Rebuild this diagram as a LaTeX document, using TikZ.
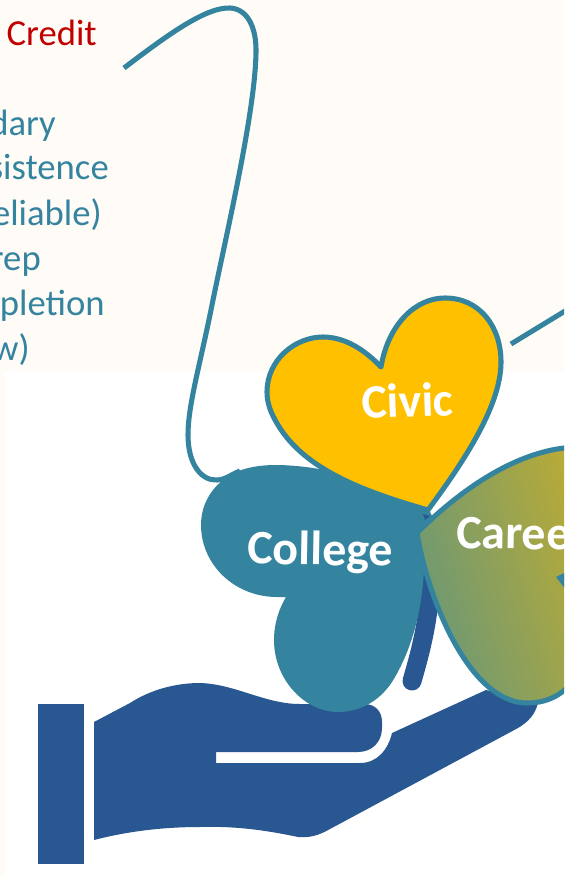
\documentclass[tikz,border=0pt]{standalone}
\usepackage{fontspec}
\setmainfont{Carlito}
\definecolor{cream}{HTML}{FFFBF6}
\definecolor{teal1}{HTML}{34849F}
\definecolor{handblue}{HTML}{285791}
\definecolor{gold}{HTML}{FFC000}
\definecolor{redtxt}{HTML}{C00000}
\definecolor{gradA}{HTML}{5E9580}
\definecolor{gradB}{HTML}{CBAF28}
\tikzset{
  outline/.style={draw=teal1,line width=3.8pt,line join=round},
  listtxt/.style={text=teal1,font=\fontsize{27.5}{27.5}\selectfont,anchor=base east,inner sep=0pt},
  leaftxt/.style={text=white,font=\fontsize{36}{36}\selectfont\bfseries,inner sep=0pt,anchor=base}
}
\begin{document}
\begin{tikzpicture}[x=0.75pt,y=-0.75pt]
\useasboundingbox (0,0) rectangle (564,877);
\clip (0,0) rectangle (564,877);
% backgrounds
\fill[white] (0,0) rectangle (564,877);
\fill[cream] (0,0) rectangle (564,371);
\fill[cream] (0,371) rectangle (5,877);
% texts
\node[inner sep=0pt,anchor=base east,text=redtxt,font=\fontsize{27.5}{27.5}\selectfont] (credit) at (97,46) {Credit};
\node[listtxt] (l1) at (56,136) {dary};
\node[listtxt] (l2) at (109,180) {sistence};
\node[listtxt] (l3) at (102,225) {eliable)};
\node[listtxt] (l4) at (41,270) {rep};
\node[listtxt] (l5) at (105,315) {pletion};
\node[listtxt] (l6) at (30,360) {w)};
% hand
\fill[handblue] (38,704) rectangle (84,864);
\fill[handblue] (94,722) -- (130,703) .. controls (150,690) and (175,683) .. (200,683)
  .. controls (235,684) and (265,704) .. (300,704) -- (364,704)
  .. controls (376,704) and (382,712) .. (382,722) -- (382,728)
  .. controls (382,742) and (372,752) .. (358,752) -- (216,752) -- (216,763) -- (360,763)
  .. controls (377,763) and (388,750) .. (392,733) -- (486,690) -- (538,703)
  .. controls (535,715) and (528,722) .. (518,728) -- (330,829)
  .. controls (318,836) and (308,838) .. (298,837)
  .. controls (265,830) and (235,826) .. (200,827)
  .. controls (160,827) and (125,832) .. (94,840) -- cycle;
% stem
\draw[handblue,line width=14.25pt,line cap=round] (431,575) .. controls (429,620) and (421,650) .. (412,681);
% College leaf with its long outline
\draw[teal1,line width=3.8pt,line cap=butt,line join=round]
  (124,68) .. controls (165,37) and (205,7) .. (230,8)
  .. controls (248,9) and (256,28) .. (256,50)
  .. controls (256,110) and (225,240) .. (212,305)
  .. controls (200,365) and (188,405) .. (188,435)
  .. controls (188,465) and (202,481) .. (217,480)
  .. controls (225,480) and (232,474) .. (240,471);
\fill[teal1] (232,474) .. controls (245,467) and (262,465) .. (275,465)
  .. controls (300,465) and (340,470) .. (375,485)
  -- (428,508) -- (432,516) -- (417,533) -- (424,570)
  .. controls (422,610) and (412,650) .. (392,682)
  .. controls (378,703) and (358,712) .. (338,712)
  .. controls (305,712) and (274,680) .. (274,640)
  .. controls (274,622) and (280,607) .. (286,597)
  -- (277,597) .. controls (235,597) and (201,565) .. (201,525)
  .. controls (201,502) and (214,484) .. (232,474) -- cycle;
\fill[handblue] (423,514) -- (430,516) -- (425,520) -- cycle;
% Civic heart
\draw[outline,fill=gold] (381,367) .. controls (388,325) and (415,298) .. (445,298)
  .. controls (480,298) and (501,327) .. (501,362)
  .. controls (501,405) and (465,460) .. (428,510)
  .. controls (365,492) and (305,470) .. (278,425)
  .. controls (270,412) and (267,402) .. (267,392)
  .. controls (267,360) and (295,337) .. (323,337)
  .. controls (345,337) and (365,350) .. (381,367) -- cycle;
% Career heart
\begin{scope}
  \clip (417,533) .. controls (460,490) and (520,447) .. (580,447) -- (620,447) -- (620,720) -- (575,680)
   .. controls (560,697) and (545,703) .. (527,703)
   .. controls (470,703) and (428,600) .. (417,533) -- cycle;
  \shade[left color=gradA,right color=gradB,shading angle=106] (380,440) rectangle (640,700);
\end{scope}
\draw[outline] (417,533) .. controls (460,490) and (520,447) .. (580,447);
\draw[outline] (417,533) .. controls (428,600) and (470,703) .. (527,703)
   .. controls (545,703) and (560,697) .. (575,680);
\fill[teal1] (556,577) -- (566,572) -- (566,590) -- cycle;
% connector on the right
\draw[teal1,line width=3.8pt] (511,344) -- (570,308);
% leaf labels
\node[leaftxt,rotate=2] (civic) at (408,417) {Civic};
\node[leaftxt,rotate=-1] (college) at (320,565) {College};
\node[leaftxt,anchor=base west,rotate=-1] (career) at (456,548) {Caree};
\end{tikzpicture}
\end{document}
